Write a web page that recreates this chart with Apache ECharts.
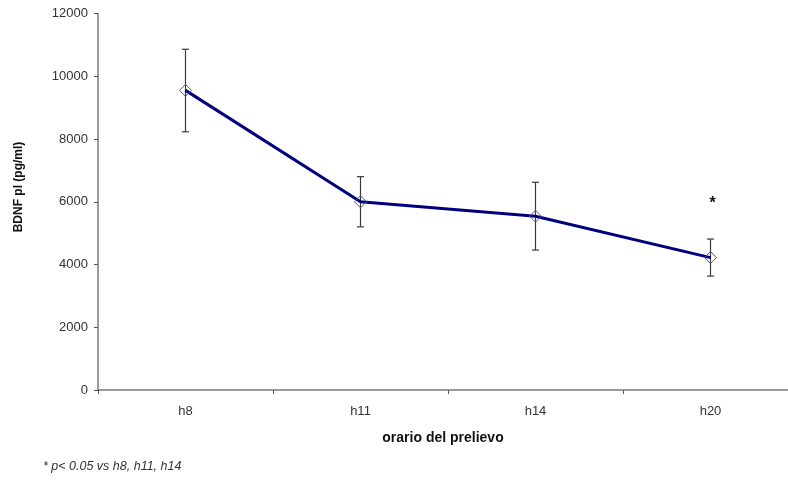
<!DOCTYPE html>
<html>
<head>
<meta charset="utf-8">
<script src="https://cdn.jsdelivr.net/npm/echarts@6/dist/echarts.min.js"></script>
<style>
  html, body { margin: 0; padding: 0; background: #fff; }
  #chart { width: 788px; height: 480px; }
</style>
</head>
<body>
<div id="chart"></div>
<script>
// Sampling times
const categories = ['h8', 'h11', 'h14', 'h20'];
// Mean plasma BDNF (pg/ml)
const meanValues = [9550, 6000, 5540, 4220];
// Error bar bounds
const upperValues = [10860, 6800, 6620, 4810];
const lowerValues = [8230, 5200, 4460, 3630];
// Significance marks and the height at which they sit
const sigMarks = ['', '', '', '*'];
const sigHeights = [0, 0, 0, 5950];
// Y axis scale
const yMin = 0, yMax = 12000, yStep = 2000;

// Each time slot is 175 px wide; the plot runs off the right edge of the canvas,
// so the x scale is a value axis cut at the visible width.
const plotLeft = 98, canvasWidth = 788, slotWidth = 175;
const xMin = -0.5;
const xMax = xMin + (canvasWidth - plotLeft) / slotWidth;
const catIdx = categories.map((c, i) => i);
const slotEdges = categories.map((c, i) => i - 0.5);

const chart = echarts.init(document.getElementById('chart'), null, { renderer: 'canvas' });

const lineData = meanValues.map((v, i) => [i, v]);
const errorData = categories.map((c, i) => [i, lowerValues[i], upperValues[i], sigHeights[i], sigMarks[i]]);

chart.setOption({
  animation: false,
  backgroundColor: '#ffffff',
  textStyle: { fontFamily: 'Liberation Sans, Arial, sans-serif' },
  grid: { left: plotLeft, top: 13.5, right: 0, bottom: 90, containLabel: false },
  xAxis: {
    type: 'value',
    min: xMin,
    max: xMax,
    name: 'orario del prelievo',
    nameLocation: 'middle',
    nameGap: 41,
    nameTextStyle: { fontSize: 14, fontWeight: 'bold', color: '#111', verticalAlign: 'top' },
    axisLine: { onZero: false, lineStyle: { color: '#7a7a7a', width: 1.5 } },
    axisTick: { show: true, length: 4, customValues: slotEdges, lineStyle: { color: '#555' } },
    axisLabel: {
      fontSize: 13, color: '#333', margin: 15,
      customValues: catIdx,
      formatter: function (v) { return categories[Math.round(v)] || ''; }
    },
    splitLine: { show: false }
  },
  yAxis: {
    type: 'value',
    min: yMin,
    max: yMax,
    interval: yStep,
    axisLine: { show: true, onZero: false, lineStyle: { color: '#7a7a7a', width: 1.5 } },
    axisTick: { show: true, length: 4, lineStyle: { color: '#555' } },
    axisLabel: { fontSize: 13, color: '#333', margin: 10, formatter: function (v) { return String(v); } },
    splitLine: { show: false }
  },
  series: [
    {
      type: 'custom',
      z: 1,
      data: errorData,
      renderItem: function (params, api) {
        const x = api.value(0);
        const lo = api.coord([x, api.value(1)]);
        const hi = api.coord([x, api.value(2)]);
        const cap = 3.5;
        const style = { stroke: '#3a3a3a', lineWidth: 1.2 };
        const children = [
          { type: 'line', shape: { x1: lo[0], y1: lo[1], x2: hi[0], y2: hi[1] }, style: style },
          { type: 'line', shape: { x1: hi[0] - cap, y1: hi[1], x2: hi[0] + cap, y2: hi[1] }, style: style },
          { type: 'line', shape: { x1: lo[0] - cap, y1: lo[1], x2: lo[0] + cap, y2: lo[1] }, style: style }
        ];
        const mark = api.value(4);
        if (mark) {
          const p = api.coord([x, api.value(3)]);
          children.push({
            type: 'text',
            x: p[0] + 2,
            y: p[1],
            style: {
              text: mark, fill: '#111', font: 'bold 16px Liberation Sans, Arial, sans-serif',
              align: 'center', verticalAlign: 'middle'
            }
          });
        }
        return { type: 'group', children: children };
      }
    },
    {
      type: 'line',
      z: 2,
      data: lineData,
      symbol: 'diamond',
      symbolSize: 12,
      showAllSymbol: true,
      lineStyle: { color: '#00007f', width: 3 },
      itemStyle: { color: 'rgba(255,255,255,0)', borderColor: '#5a5a7a', borderWidth: 1 }
    }
  ],
  graphic: [
    {
      type: 'text',
      x: 18.5,
      y: 187,
      rotation: Math.PI / 2,
      style: {
        text: 'BDNF pl (pg/ml)',
        fill: '#111',
        font: 'bold 12px Liberation Sans, Arial, sans-serif',
        align: 'center',
        verticalAlign: 'middle'
      }
    },
    {
      type: 'text',
      left: 43,
      top: 460,
      style: {
        text: '* p< 0.05 vs h8, h11, h14',
        fill: '#333',
        font: 'italic 12.5px Liberation Sans, Arial, sans-serif'
      }
    }
  ]
});
</script>
</body>
</html>
